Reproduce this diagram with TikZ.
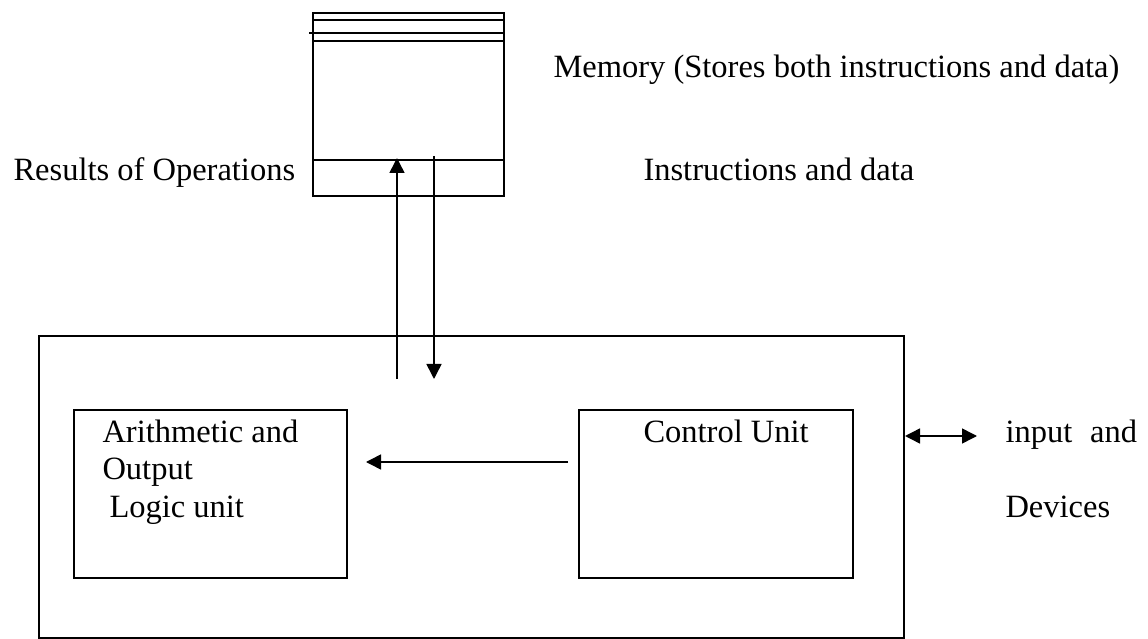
\documentclass[tikz,border=0pt]{standalone}
\usepackage{fontspec}
\setmainfont{Liberation Serif}
\usetikzlibrary{arrows.meta,positioning}

\begin{document}
\begin{tikzpicture}[x=0.4pt,y=-0.4pt,
  >={Triangle[length=6pt,width=6pt]},
  box/.style = {draw, line width=0.8pt, inner sep=0pt, anchor=north west},
  txt/.style = {anchor=base west, inner sep=0pt,
    font=\fontsize{13}{15}\selectfont}]
\useasboundingbox (0,0) rectangle (1148,639);
% boxes
\node[box, minimum width=76.4pt, minimum height=73.2pt] (mem) at (312,12) {};
\node[box, minimum width=346pt, minimum height=120.8pt] (cpu) at (38,335) {};
\node[box, minimum width=109.2pt, minimum height=67.2pt] (alu) at (73,409) {};
\node[box, minimum width=109.6pt, minimum height=67.2pt] (cu) at (578,409) {};
% memory cells
\draw[line width=0.6pt] (mem.west |- 0,20) -- (mem.east |- 0,20);
\draw[line width=0.8pt] (309,33) -- (mem.east |- 0,33);
\draw[line width=0.6pt] (mem.west |- 0,41) -- (mem.east |- 0,41);
\draw[line width=0.8pt] (mem.west |- 0,160) -- (mem.east |- 0,160);
% labels
\node[txt] (memlabel) at (553,78) {Memory (Stores both instructions and data)};
\node[txt] (reslabel) at (13,181) {Results of Operations};
\node[txt] (inslabel) at (643,181) {Instructions and data};
\node[txt] (alulabel) at (102,442) {Arithmetic and};
\node[txt] (outlabel) at (102,479) {Output};
\node[txt] (logiclabel) at (109,517) {Logic unit};
\node[txt] (culabel) at (643,442) {Control Unit};
\node[txt] (iolabel) at (1005,442) {input\hspace{0.55em}and};
\node[txt] (devlabel) at (1005,517) {Devices};
% connectors
\coordinate (upfoot) at (397,379);
\coordinate (upend) at (397,158);
\coordinate (downstart) at (434,156);
\coordinate (downend) at (434,379);
\coordinate (cuarr) at (568,462);
\coordinate (aluarr) at (366,462);
\coordinate (io) at (977,436);
\draw [->, line width=0.6pt] (upfoot) -- (upend);
\draw [->, line width=0.6pt] (downstart) -- (downend);
\draw [->, line width=0.6pt] (cuarr) -- (aluarr);
\draw [<->, line width=0.6pt] (cpu.east |- io) -- (io);
\end{tikzpicture}
\end{document}
